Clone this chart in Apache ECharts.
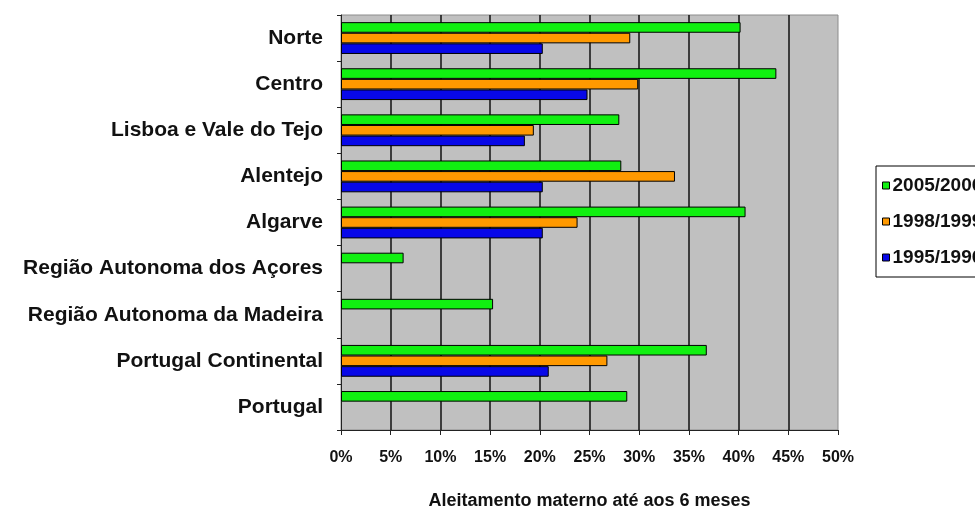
<!DOCTYPE html>
<html>
<head>
<meta charset="utf-8">
<script src="https://cdn.jsdelivr.net/npm/echarts@6/dist/echarts.min.js"></script>
<style>
  html, body { margin: 0; padding: 0; background: #fff; }
  #chart { width: 975px; height: 513px; }
</style>
</head>
<body>
<div id="chart"></div>
<script>
// regions, top to bottom
const regions = [
  'Norte',
  'Centro',
  'Lisboa e Vale do Tejo',
  'Alentejo',
  'Algarve',
  'Região Autonoma dos Açores',
  'Região Autonoma da Madeira',
  'Portugal Continental',
  'Portugal'
];
const seriesNames = ['2005/2006', '1998/1999', '1995/1996'];
// % breastfeeding until 6 months
const y2005 = [40.2, 43.8, 28.0, 28.2, 40.7, 6.3, 15.3, 36.8, 28.8];
const y1998 = [29.1, 29.9, 19.4, 33.6, 23.8, null, null, 26.8, null];
const y1995 = [20.3, 24.8, 18.5, 20.3, 20.3, null, null, 20.9, null];
const xTicks = [0, 5, 10, 15, 20, 25, 30, 35, 40, 45, 50];

const colors = ['#11f011', '#ff9900', '#0808e8'];
const font = 'Liberation Sans, Arial, sans-serif';

const chart = echarts.init(document.getElementById('chart'));

function barSeries(name, data, color) {
  return {
    name: name,
    type: 'bar',
    data: data,
    barGap: '0%',
    barCategoryGap: '31%',
    itemStyle: {
      color: color,
      borderColor: '#000',
      borderWidth: 1
    },
    emphasis: { disabled: true }
  };
}

const option = {
  animation: false,
  color: colors,
  grid: {
    left: 341,
    right: 137,
    top: 15,
    bottom: 83,
    outerBoundsMode: 'none',
    containLabel: false,
    show: true,
    backgroundColor: '#c0c0c0',
    borderColor: '#8c8c8c',
    borderWidth: 1
  },
  legend: {
    orient: 'vertical',
    left: 876,
    top: 166,
    data: seriesNames,
    icon: 'rect',
    itemWidth: 7,
    itemHeight: 7,
    itemGap: 17,
    padding: [10, 8, 10, 6],
    borderColor: '#000',
    borderWidth: 1,
    itemStyle: { borderColor: '#000', borderWidth: 1 },
    textStyle: {
      fontFamily: font,
      fontWeight: 'bold',
      fontSize: 19,
      color: '#111',
      padding: [0, 0, 0, -2]
    }
  },
  xAxis: {
    type: 'value',
    min: 0,
    max: 50,
    interval: 5,
    name: 'Aleitamento materno até aos 6 meses',
    nameLocation: 'middle',
    nameGap: 62,
    nameTextStyle: {
      fontFamily: font,
      fontWeight: 'bold',
      fontSize: 18,
      color: '#111'
    },
    axisLine: { show: true, lineStyle: { color: '#222', width: 1 } },
    axisTick: { show: true, length: 5, lineStyle: { color: '#222' } },
    axisLabel: {
      margin: 20,
      fontFamily: font,
      fontWeight: 'bold',
      fontSize: 16,
      color: '#111',
      formatter: v => xTicks.includes(v) ? v + '%' : ''
    },
    splitLine: {
      show: true,
      showMinLine: false,
      showMaxLine: false,
      lineStyle: { color: '#111', width: 1.5 }
    }
  },
  yAxis: {
    type: 'category',
    inverse: true,
    data: regions,
    axisLine: { show: true, lineStyle: { color: '#222', width: 1 } },
    axisTick: { show: true, length: 4, lineStyle: { color: '#222' } },
    axisLabel: {
      margin: 18,
      fontFamily: font,
      fontWeight: 'bold',
      fontSize: 21,
      color: '#111'
    },
    splitLine: { show: false }
  },
  series: [
    barSeries(seriesNames[0], y2005, colors[0]),
    barSeries(seriesNames[1], y1998, colors[1]),
    barSeries(seriesNames[2], y1995, colors[2])
  ]
};

chart.setOption(option);
</script>
</body>
</html>
